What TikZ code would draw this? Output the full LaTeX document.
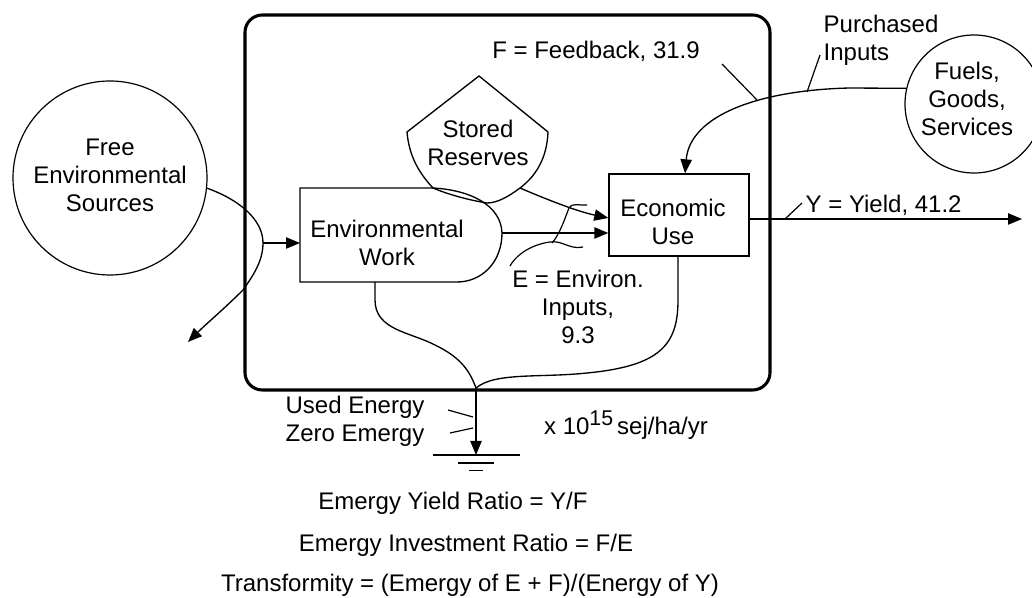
\documentclass[tikz,border=0pt]{standalone}
\usepackage{fontspec}
\setmainfont{Liberation Sans}
\usetikzlibrary{arrows.meta,calc}
\begin{document}
\begin{tikzpicture}[x=0.75pt,y=-0.75pt,line width=1pt,
  lbl/.style={font=\fontsize{18}{21}\selectfont, inner sep=0pt, align=center},
  lbll/.style={font=\fontsize{18}{21}\selectfont, inner sep=0pt, align=left},
  arr/.style={-{Triangle[length=10.5pt,width=8.5pt]}},
  thin line/.style={line width=0.9pt}]
\useasboundingbox (0,0) rectangle (1032,598);
% system boundary
\draw[line width=2.3pt, rounded corners=13pt] (245,15) rectangle (770,390);
% sources
\node[draw, circle, thin line, minimum size=145.5pt, inner sep=0pt] (free) at (110,178) {};
\node[lbl] (freet) at (110,175) {Free\\Environmental\\Sources};
\node[draw, circle, thin line, minimum size=103.5pt, inner sep=0pt] (fuels) at (974,104) {};
\node[lbl] (fuelst) at (967,99) {Fuels,\\Goods,\\Services};
% storage tank
\draw (407,132) -- (479,76) -- (548,132) .. controls (547,158) and (536,176) .. (520,188)
  .. controls (508,197) and (497,203) .. (487,203)
  .. controls (468,200) and (447,194) .. (433,188)
  .. controls (418,172) and (409,155) .. (407,132) -- cycle;
\node[lbl] (sr) at (478,143) {Stored\\Reserves};
% producer
\draw (300,188) -- (433,188) .. controls (470,190) and (501,205) .. (502,233)
  .. controls (502,262) and (482,282) .. (457,282) -- (300,282) -- cycle;
\node[lbl] (ew) at (387,243) {Environmental\\Work};
% economic use
\node[draw, minimum width=105pt, minimum height=61.5pt, inner sep=0pt] (eu) at (679,215) {};
\node[lbl] (eut) at (673,222) {Economic\\Use};
% coordinates
\coordinate (j1) at (263,243);
\coordinate (ewin) at (300,243);
\coordinate (ewout) at (502,233);
\coordinate (srout) at (520,188);
\coordinate (leak) at (188,342);
\coordinate (sink) at (476,388);
\coordinate (sinkend) at (476,455);
\coordinate (yend) at (1022,219);
\coordinate (ewbot) at (375,282);
% free sources flow
\draw[arr] (free.-6) .. controls (240,200) and (263,220) .. (j1)
  .. controls (263,262) and (252,277) .. (243,290) .. controls (225,308) and (205,325) .. (leak);
\draw[arr] (j1) -- (ewin);
% flows into economic use
\draw[arr] (srout) .. controls (555,203) and (580,212) .. ($(eu.west)+(0,3)$);
\draw[arr] (ewout) -- ($(eu.west)+(0,18)$);
% feedback
\draw[arr] (fuels.167) -- (850,88) .. controls (760,90) and (690,115) .. ($(eu.north)+(6,0)$);
% yield
\draw[arr] ($(eu.east)+(0,4)$) -- (yend);
% depreciation to sink
\draw (ewbot) -- (375,300) .. controls (375,330) and (410,332) .. (435,345)
  .. controls (462,358) and (470,372) .. (sink);
\draw (eu.south -| 678,0) -- (678,300) .. controls (678,345) and (660,366) .. (587,373)
  .. controls (540,378) and (495,372) .. (sink);
\draw[arr] (sink) -- (sinkend);
\draw (433,455) -- (520,455);
\draw (458,463) -- (494,463);
\draw[line width=0.6pt] (469,470) -- (483,470);
% E leader
\draw[thin line] (510,266) .. controls (518,252) and (535,244) .. (550,242)
  .. controls (562,240) and (570,250) .. (583,247);
\draw[thin line] (552,243) .. controls (560,234) and (565,218) .. (569,208)
  .. controls (573,202) and (580,206) .. (587,205);
% labels
\node[lbl] (elbl) at (578,307) {E = Environ.\\Inputs,\\9.3};
\node[lbl] (flbl) at (596,51) {F = Feedback, 31.9};
\draw[thin line] (722,64) -- (757,100);
\node[lbll, anchor=west] (plbl) at (823,40) {Purchased\\Inputs};
\draw[thin line] (820,55) -- (807,92);
\node[lbll, anchor=west] (ylbl) at (805,205) {Y = Yield, 41.2};
\draw[thin line] (785,219) -- (802,203);
\node[lbll, anchor=west] (ulbl) at (285,421) {Used Energy\\Zero Emergy};
\draw[thin line] (448,410) -- (473,417);
\draw[thin line] (450,433) -- (473,428);
\node[lbl] (unit) at (626,425) {x 10\raisebox{0.4em}{\fontsize{16}{16}\selectfont 15}\,sej/ha/yr};
\node[lbl] (r1) at (453,503) {Emergy Yield Ratio = Y/F};
\node[lbl] (r2) at (466,545) {Emergy Investment Ratio = F/E};
\node[lbl] (r3) at (470,585) {Transformity = (Emergy of E + F)/(Energy of Y)};
\end{tikzpicture}
\end{document}
